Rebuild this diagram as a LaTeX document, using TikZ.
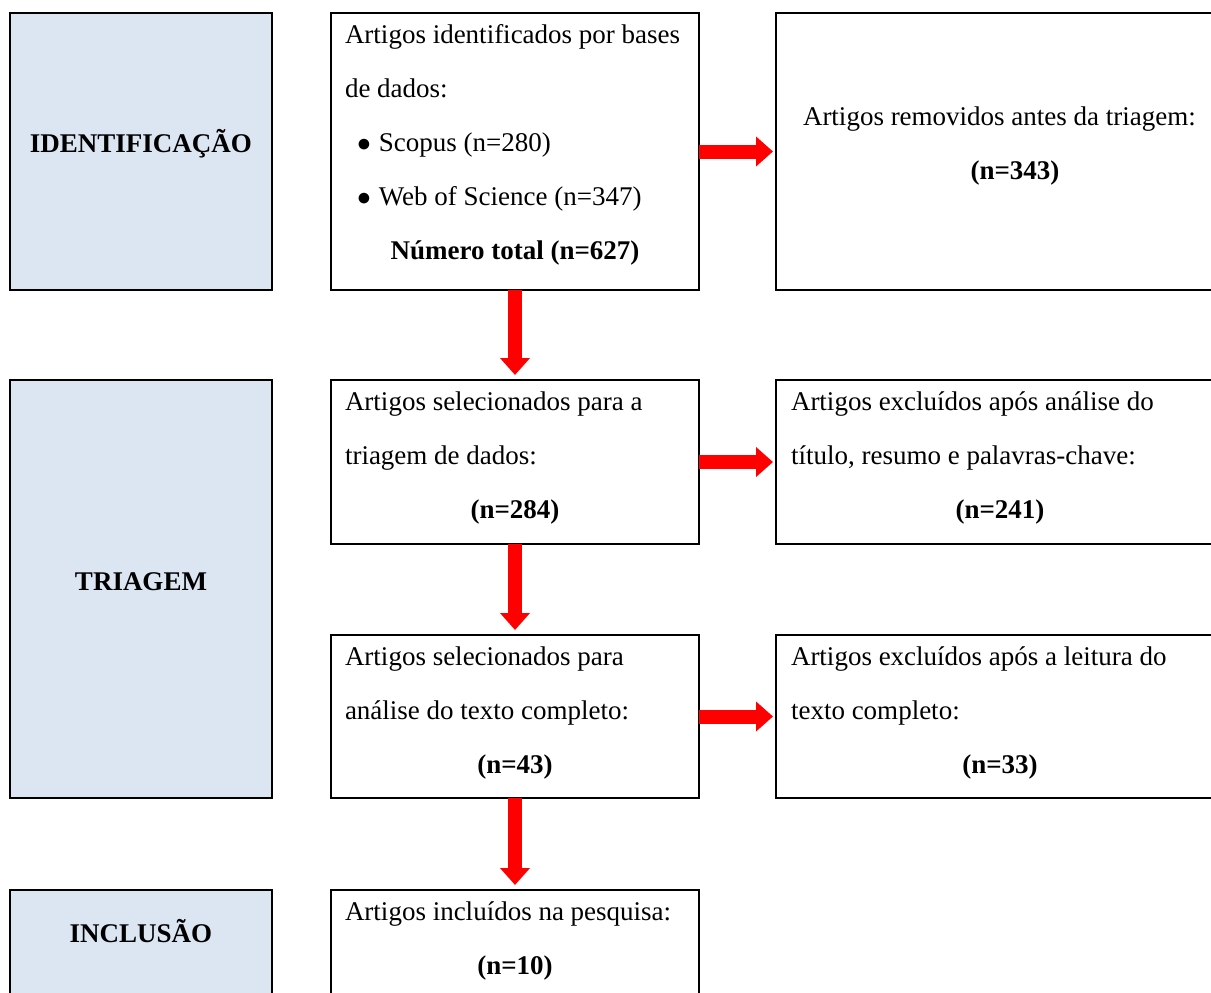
\documentclass[tikz,border=0pt]{standalone}
\usepackage{fontspec}
\setmainfont{Liberation Serif}
\usepackage{tikz}
\usetikzlibrary{arrows.meta,positioning}

\definecolor{stageblue}{RGB}{220,230,242}
\newdimen\pxu \pxu=0.75pt
% text blocks inside the boxes (heights in px)
\newcommand{\midtext}[2]{\parbox[c][#1\pxu][t]{340\pxu}{#2}}
\newcommand{\sidetext}[3][t]{\parbox[c][#2\pxu][#1]{418\pxu}{#3}}
\newcommand{\bulletline}[1]{\hspace*{12\pxu}$\bullet$\hspace{8\pxu}#1}
\newcommand{\centred}[1]{\makebox[\linewidth]{\textbf{#1}}}

\begin{document}
\begin{tikzpicture}[
  x=0.75pt, y=-0.75pt,
  font=\fontsize{20.25pt}{40.5pt}\selectfont,
  stagebox/.style={draw, line width=1.5pt, fill=stageblue, minimum width=196.5pt,
    font=\fontsize{20.25pt}{40.5pt}\selectfont\bfseries,
    text height=13.5pt, text depth=12pt, inner sep=0pt, outer sep=0pt},
  midbox/.style={draw, line width=1.1pt, inner xsep=10.5pt, inner ysep=8.625pt, outer sep=0pt},
  sidebox/.style={draw, line width=1.5pt, inner xsep=11.25pt, inner ysep=8.625pt, outer sep=0pt},
  arr/.style={draw=red, line width=10.5pt, -{Triangle[length=12.75pt, width=21.75pt]}},
  downarr/.style={arr, shorten >=3.75pt},
  rightarr/.style={arr, shorten >=2.25pt},
]
\useasboundingbox (0,0) rectangle (1211,993);

% Middle column
\node[midbox] (found) at (515,151.5) {\midtext{254}{%
  Artigos identificados por bases\\
  de dados:\\
  \bulletline{Scopus (n=280)}\\
  \bulletline{Web of Science (n=347)}\\
  \centred{Número total (n=627)}}};
\node[midbox, below=67.5pt of found] (screened) {\midtext{141}{%
  Artigos selecionados para a\\
  triagem de dados:\\
  \centred{(n=284)}}};
\node[midbox, below=68.25pt of screened] (fulltext) {\midtext{140}{%
  Artigos selecionados para\\
  análise do texto completo:\\
  \centred{(n=43)}}};
\node[midbox, below=69pt of fulltext] (included) {\midtext{90}{%
  Artigos incluídos na pesquisa:\\
  \centred{(n=10)}}};

% Right column
\node[sidebox, right=57.75pt of found] (removed) {\sidetext[c]{254}{%
  \hspace*{12\pxu}Artigos removidos antes da triagem:\\
  \makebox[\linewidth]{\hspace*{30\pxu}\textbf{(n=343)}}\par\vspace{10\pxu}}};
\node[sidebox, right=57.75pt of screened] (excl1) {\sidetext{141}{%
  Artigos excluídos após análise do\\
  título, resumo e palavras-chave:\\
  \centred{(n=241)}}};
\node[sidebox, right=57.75pt of fulltext] (excl2) {\sidetext{140}{%
  Artigos excluídos após a leitura do\\
  texto completo:\\
  \centred{(n=33)}}};

% Stage column
\node[stagebox, minimum height=207.75pt, left=44.25pt of found] (ident) {IDENTIFICAÇÃO};
\node[stagebox, minimum height=313.5pt, left=44.25pt of screened.north west,
  anchor=north east] (triag) {TRIAGEM};
\node[stagebox, minimum height=82.5pt, text depth=18pt, left=44.25pt of included.north west,
  anchor=north east] (incl) {INCLUSÃO};

% Arrows
\draw[downarr] (found) -- (screened);
\draw[downarr] (screened) -- (fulltext);
\draw[downarr] (fulltext) -- (included);
\draw[rightarr] (found) -- (removed);
\draw[rightarr] (screened) -- (excl1);
\draw[rightarr] (fulltext) -- (excl2);
\end{tikzpicture}
\end{document}
